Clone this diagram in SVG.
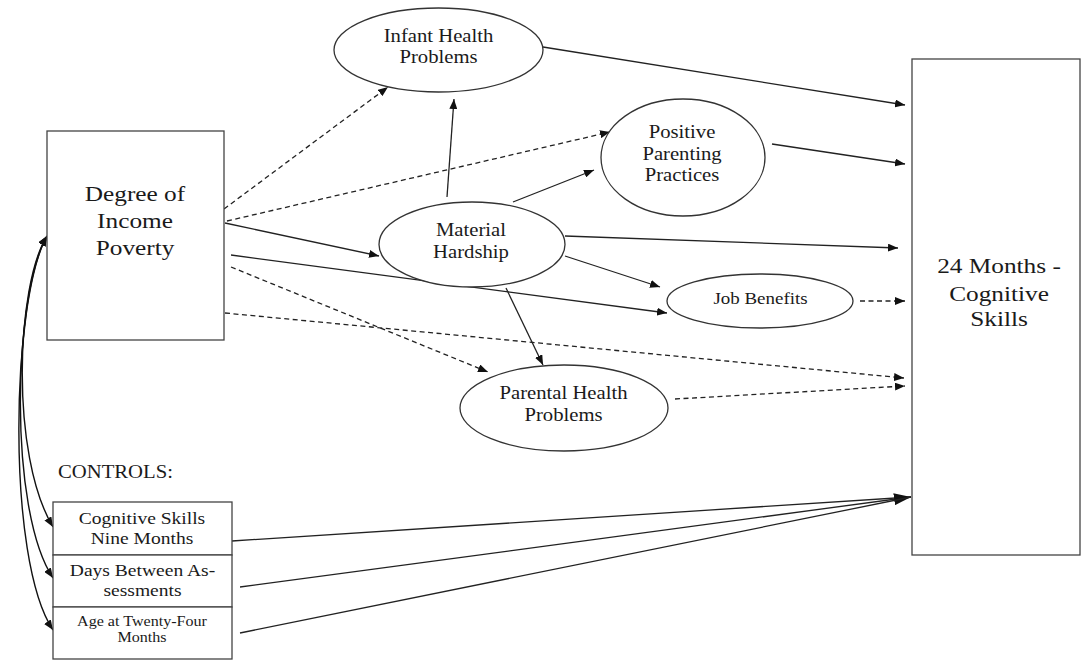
<svg xmlns="http://www.w3.org/2000/svg" width="1083" height="660" viewBox="0 0 1083 660">
<style>
  .box { fill: #fff; stroke: #444; stroke-width: 1.3; }
  .ell { fill: #fff; stroke: #333; stroke-width: 1.3; }
  .t { font-family: "Liberation Serif", "Times New Roman", serif; fill: #1a1a1a; text-anchor: middle; }
  .big { font-size: 22px; }
  .mid { font-size: 18px; }
  .sm { font-size: 17px; }
  .xs { font-size: 14px; }
  .ln { fill: none; stroke: #222; stroke-width: 1.3; }
  .solid { marker-end: url(#ah); }
  .dash { stroke-dasharray: 5 3.5; marker-end: url(#ah); }
  .corr { fill: none; stroke: #111; stroke-width: 1.4; marker-start: url(#ahs); marker-end: url(#ah); }
</style>
<defs>
  <marker id="ah" viewBox="0 0 10 8" refX="10" refY="4" markerWidth="10" markerHeight="8" markerUnits="userSpaceOnUse" orient="auto">
    <path d="M0,0 L10,4 L0,8 Z" fill="#111"/>
  </marker>
  <marker id="ahs" viewBox="0 0 10 8" refX="10" refY="4" markerWidth="10" markerHeight="8" markerUnits="userSpaceOnUse" orient="auto-start-reverse">
    <path d="M0,0 L10,4 L0,8 Z" fill="#111"/>
  </marker>
  <marker id="ahbig" viewBox="0 0 17 12" refX="17" refY="6" markerWidth="17" markerHeight="12" markerUnits="userSpaceOnUse" orient="auto">
    <path d="M0,0 L17,6 L0,12 Z" fill="#111"/>
  </marker>
</defs>
<rect width="1083" height="660" fill="#fff"/>

<g id="connectors">
  <!-- from Degree of Income Poverty -->
  <line class="ln dash" x1="224" y1="209" x2="388" y2="87"/>
  <line class="ln dash" x1="227" y1="221" x2="610" y2="132"/>
  <line class="ln solid" x1="225" y1="223" x2="379" y2="256"/>
  <line class="ln solid" x1="231" y1="255" x2="667" y2="313"/>
  <line class="ln dash" x1="231" y1="267" x2="488" y2="372"/>
  <line class="ln dash" x1="225" y1="313" x2="904" y2="378"/>
  <!-- mediators -->
  <line class="ln solid" x1="543" y1="47" x2="905" y2="105"/>
  <line class="ln solid" x1="447" y1="197" x2="454" y2="99"/>
  <line class="ln solid" x1="513" y1="202" x2="594" y2="170"/>
  <line class="ln solid" x1="772" y1="144" x2="905" y2="164"/>
  <line class="ln solid" x1="565" y1="236" x2="898" y2="248"/>
  <line class="ln solid" x1="565" y1="256" x2="660" y2="287"/>
  <line class="ln solid" x1="506" y1="288" x2="543" y2="365"/>
  <line class="ln dash" x1="860" y1="301" x2="905" y2="301"/>
  <line class="ln dash" x1="675" y1="399" x2="905" y2="386"/>
  <!-- controls -->
  <line class="ln" x1="232" y1="541" x2="911" y2="497"/>
  <line class="ln" x1="240" y1="587" x2="911" y2="497" style="marker-end:url(#ahbig)"/>
  <line class="ln" x1="240" y1="633" x2="911" y2="497"/>
  <!-- correlations -->
  <path class="corr" d="M47,236 C16,285 10,455 53,527"/>
  <path class="corr" d="M47,236 C13,295 8,510 53,578"/>
  <path class="corr" d="M47,236 C11,300 6,560 53,630"/>
</g>

<g id="degree-income-poverty">
  <rect class="box" x="47" y="131" width="177" height="209"/>
  <g transform="translate(135 0) scale(1.15 1)">
    <text class="t big" x="0" y="201">Degree of</text>
    <text class="t big" x="0" y="228">Income</text>
    <text class="t big" x="0" y="255">Poverty</text>
  </g>
</g>

<g id="infant-health-problems">
  <ellipse class="ell" cx="438.5" cy="50" rx="104.5" ry="42"/>
  <g transform="translate(438.5 0) scale(1.15 1)">
    <text class="t mid" x="0" y="42">Infant Health</text>
    <text class="t mid" x="0" y="63">Problems</text>
  </g>
</g>

<g id="positive-parenting-practices">
  <ellipse class="ell" cx="683" cy="157.5" rx="82" ry="58.5"/>
  <g transform="translate(682 0) scale(1.15 1)">
    <text class="t mid" x="0" y="138">Positive</text>
    <text class="t mid" x="0" y="160">Parenting</text>
    <text class="t mid" x="0" y="181">Practices</text>
  </g>
</g>

<g id="material-hardship">
  <ellipse class="ell" cx="472" cy="244.5" rx="93" ry="42.5"/>
  <g transform="translate(471 0) scale(1.15 1)">
    <text class="t mid" x="0" y="236">Material</text>
    <text class="t mid" x="0" y="258">Hardship</text>
  </g>
</g>

<g id="job-benefits">
  <ellipse class="ell" cx="760" cy="301" rx="93" ry="27"/>
  <g transform="translate(760.5 0) scale(1.15 1)">
    <text class="t" x="0" y="304" style="font-size:16.5px">Job Benefits</text>
  </g>
</g>

<g id="parental-health-problems">
  <ellipse class="ell" cx="564" cy="408" rx="104" ry="43"/>
  <g transform="translate(563.5 0) scale(1.15 1)">
    <text class="t mid" x="0" y="399">Parental Health</text>
    <text class="t mid" x="0" y="421">Problems</text>
  </g>
</g>

<g id="cognitive-skills-24">
  <rect class="box" x="912" y="59" width="168" height="496"/>
  <g transform="translate(999 0) scale(1.15 1)">
    <text class="t big" x="0" y="273">24 Months -</text>
    <text class="t big" x="0" y="301">Cognitive</text>
    <text class="t big" x="0" y="326">Skills</text>
  </g>
</g>

<g id="controls-label">
  <g transform="translate(58 0) scale(1.15 1)">
    <text class="t mid" x="0" y="478" style="text-anchor:start">CONTROLS:</text>
  </g>
</g>

<g id="control-cognitive-nine">
  <rect class="box" x="53" y="502" width="179" height="53"/>
  <g transform="translate(142 0) scale(1.15 1)">
    <text class="t sm" x="0" y="524">Cognitive Skills</text>
    <text class="t sm" x="0" y="544">Nine Months</text>
  </g>
</g>

<g id="control-days-between">
  <rect class="box" x="53" y="555" width="179" height="52"/>
  <g transform="translate(142.5 0) scale(1.15 1)">
    <text class="t sm" x="0" y="576">Days Between As-</text>
    <text class="t sm" x="0" y="596">sessments</text>
  </g>
</g>

<g id="control-age-24">
  <rect class="box" x="53" y="607" width="179" height="52"/>
  <g transform="translate(142 0) scale(1.15 1)">
    <text class="t xs" x="0" y="626">Age at Twenty-Four</text>
    <text class="t xs" x="0" y="642">Months</text>
  </g>
</g>
</svg>
